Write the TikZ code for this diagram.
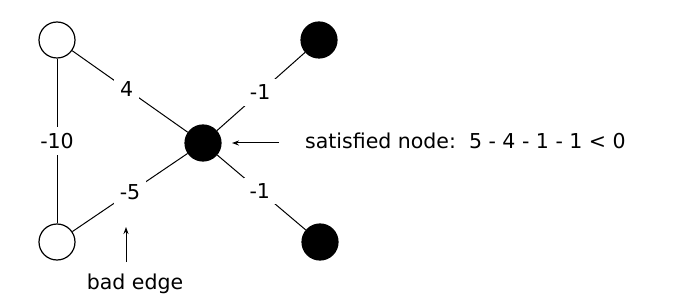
\documentclass[tikz,border=0pt]{standalone}
\usepackage{fontspec}
\setmainfont{DejaVu Sans}
\usetikzlibrary{arrows.meta}
\begin{document}
\begin{tikzpicture}[x=1pt,y=-1pt,
  vertex/.style={circle,draw,line width=1.2pt,minimum size=36pt,inner sep=0pt},
  open/.style={vertex,fill=white},
  solid/.style={vertex,fill=black},
  edge/.style={line width=1pt},
  weight/.style={fill=white,inner sep=6pt,font=\fontsize{20.5}{24}\selectfont},
  callout/.style={line width=1pt,-{Stealth[length=7pt,width=5pt]}},
  note/.style={font=\fontsize{20.5}{24}\selectfont,inner sep=0pt}]
  \useasboundingbox (0,0) rectangle (685,307);

  % vertices
  \node[open]  (tl) at (57,40)  {};
  \node[open]  (bl) at (57,242) {};
  \node[solid] (c)  at (203,143) {};
  \node[solid] (tr) at (319,40) {};
  \node[solid] (br) at (320,242) {};

  % weighted edges
  \draw[edge] (tl) -- node[weight,pos=0.47] {4} (c);
  \draw[edge] (c) -- node[weight,pos=0.49] {-1} (tr);
  \draw[edge] (c) -- node[weight,pos=0.5] {-5} (bl);
  \draw[edge] (c) -- node[weight,pos=0.48] {-1} (br);
  \draw[edge] (tl) -- node[weight] {-10} (bl);

  % annotations
  \node[note,anchor=west] (sat) at (305,141) {satisfied node:\ \ 5 - 4 - 1 - 1 < 0};
  \coordinate (satfrom) at (279,143);
  \coordinate (sattip) at (232,143);
  \draw[callout] (satfrom) -- (sattip);

  \node[note] (bad) at (135,284) {bad edge};
  \coordinate (badfrom) at (126,262);
  \coordinate (badtip) at (126,227);
  \draw[callout] (badfrom) -- (badtip);
\end{tikzpicture}
\end{document}
